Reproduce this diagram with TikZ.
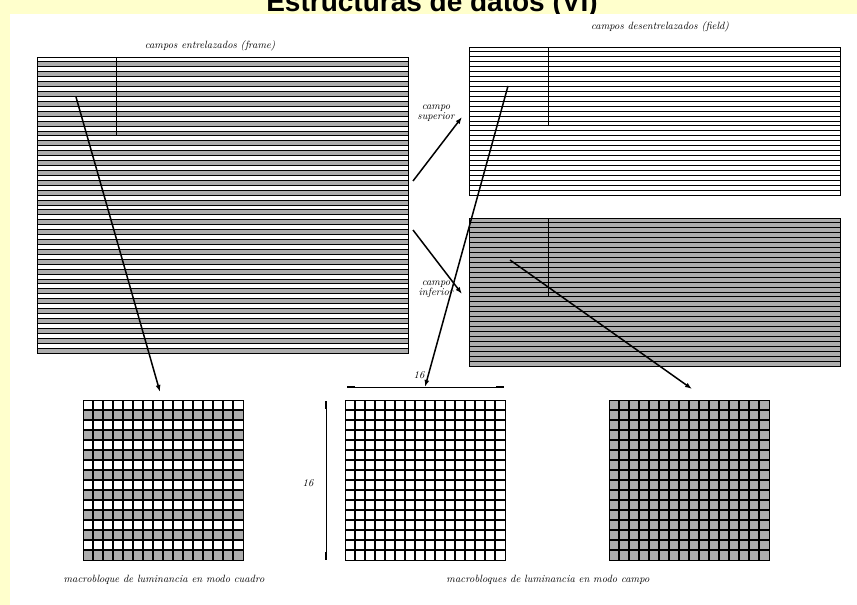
\documentclass[tikz,border=0pt]{standalone}
\usepackage{fontspec}
\newfontfamily\titlefont{Liberation Sans}
\usetikzlibrary{arrows.meta}
\definecolor{bgyellow}{HTML}{FFFFCC}
\definecolor{rowgray}{gray}{0.68}
\tikzset{
  lbl/.style={font=\fontsize{10.5}{10}\selectfont\itshape, inner sep=0pt, align=center},
  box/.style={draw, line width=1pt, inner sep=0pt, anchor=north west},
  arr/.style={line width=1.5pt, -{Latex[length=7pt,width=5pt]}},
  rowline/.style={line width=0.9pt},
  gridline/.style={line width=1.2pt},
  dimline/.style={line width=0.9pt},
  dimend/.style={line width=2.8pt},
}
\begin{document}
\begin{tikzpicture}[x=1pt,y=-1pt]
\useasboundingbox (0,0) rectangle (857,605);
\fill[bgyellow] (0,0) rectangle (857,605);
\node[font=\titlefont\bfseries\fontsize{28}{30}\selectfont, anchor=base, inner sep=0pt] (title) at (432,12) {Estructuras de datos (VI)};
\fill[white] (10,14) rectangle (857,605);

% ---------- interlaced frame ----------
\foreach \i in {1,3,...,59}
  \fill[rowgray] (37,{57+\i*4.9333}) rectangle (408,{57+(\i+1)*4.9333});
\foreach \i in {1,...,59}
  \draw[rowline] (37,{57+\i*4.9333}) -- (408,{57+\i*4.9333});
\node[box, minimum width=371pt, minimum height=296pt] (frame) at (37,57) {};
\draw[line width=1pt] (116,57) -- (116,{57+16*4.9333});

% ---------- top field ----------
\foreach \i in {1,...,29}
  \draw[rowline] (469,{47+\i*4.9333}) -- (840,{47+\i*4.9333});
\node[box, minimum width=371pt, minimum height=148pt] (topfield) at (469,47) {};
\draw[line width=1pt] (548,47) -- (548,{47+16*4.9333});

% ---------- bottom field ----------
\fill[rowgray] (469,218) rectangle (840,366);
\foreach \i in {1,...,29}
  \draw[rowline] (469,{218+\i*4.9333}) -- (840,{218+\i*4.9333});
\node[box, minimum width=371pt, minimum height=148pt] (botfield) at (469,218) {};
\draw[line width=1pt] (548,218) -- (548,{218+16*4.9333});

% ---------- macroblocks ----------
% frame-mode macroblock
\foreach \i in {1,3,...,15}
  \fill[rowgray] (83,{400+\i*10}) rectangle (243,{400+(\i+1)*10});
\foreach \i in {1,...,15} {
  \draw[gridline] (83,{400+\i*10}) -- (243,{400+\i*10});
  \draw[gridline] ({83+\i*10},400) -- ({83+\i*10},560);
}
\node[box, minimum width=160pt, minimum height=160pt, line width=1.3pt] (mb1) at (83,400) {};

% field-mode macroblock (top field)
\foreach \i in {1,...,15} {
  \draw[gridline] (345,{400+\i*10}) -- (505,{400+\i*10});
  \draw[gridline] ({345+\i*10},400) -- ({345+\i*10},560);
}
\node[box, minimum width=160pt, minimum height=160pt, line width=1.3pt] (mb2) at (345,400) {};

% field-mode macroblock (bottom field)
\fill[rowgray] (609,400) rectangle (769,560);
\foreach \i in {1,...,15} {
  \draw[gridline] (609,{400+\i*10}) -- (769,{400+\i*10});
  \draw[gridline] ({609+\i*10},400) -- ({609+\i*10},560);
}
\node[box, minimum width=160pt, minimum height=160pt, line width=1.3pt] (mb3) at (609,400) {};

% ---------- dimension lines ----------
\coordinate (hdimL) at (347,387);
\coordinate (hdimR) at (504,387);
\draw[dimline] (hdimL) -- (hdimR);
\draw[dimend] (347,387) -- (355,387);
\draw[dimend] (496,387) -- (504,387);
\coordinate (vdimT) at (326,401);
\coordinate (vdimB) at (326,560);
\draw[dimline] (vdimT) -- (vdimB);
\draw[dimend] (326,401) -- (326,409);
\draw[dimend] (326,552) -- (326,560);
\node[lbl] (h16) at (419,375) {16};
\node[lbl] (v16) at (308,483) {16};

% ---------- arrows ----------
\coordinate (fa) at (76,97);
\coordinate (fb) at (160,392);
\draw[arr] (fa) -- (fb);

\coordinate (sa) at (413,181);
\coordinate (sb) at (462,117);
\draw[arr] (sa) -- (sb);

\coordinate (ia) at (413,230);
\coordinate (ib) at (462,294);
\draw[arr] (ia) -- (ib);

\coordinate (ta) at (508,86);
\coordinate (tb) at (425,387);
\draw[arr] (ta) -- (tb);

\coordinate (ba) at (510,260);
\coordinate (bb) at (692,389);
\draw[arr] (ba) -- (bb);

% ---------- labels ----------
\node[lbl] (lframe) at (210,46) {campos entrelazados (frame)};
\node[lbl] (lfield) at (660,27) {campos desentrelazados (field)};
\node[lbl] (lsup) at (436,113) {campo\\superior};
\node[lbl] (linf) at (436,289) {campo\\inferior};
\node[lbl] (cap1) at (164,580) {macrobloque de luminancia en modo cuadro};
\node[lbl] (cap2) at (548,580) {macrobloques de luminancia en modo campo};
\end{tikzpicture}
\end{document}
